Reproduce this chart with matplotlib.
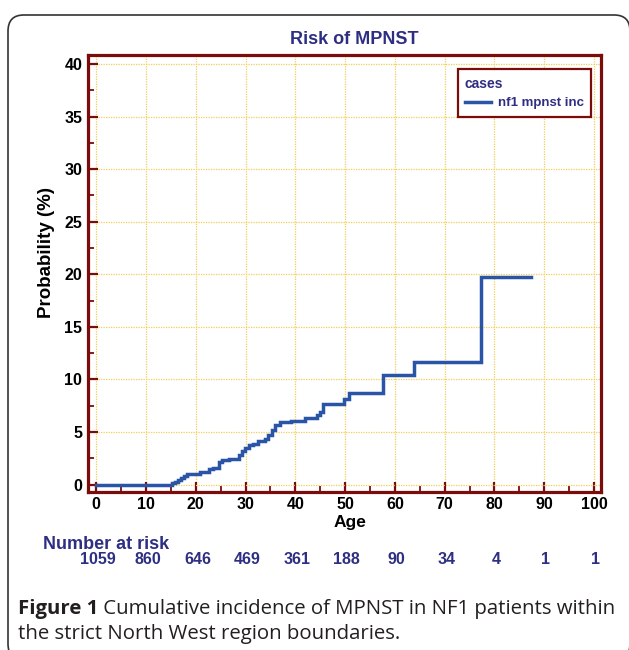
import matplotlib
matplotlib.use("Agg")
import matplotlib.pyplot as plt
from matplotlib.patches import FancyBboxPatch
from matplotlib.ticker import MultipleLocator

# ---- data ----
ages = [0, 15.2, 15.8, 16.4, 17.0, 17.6, 18.2, 20.9, 22.6, 23.4, 24.6, 25.2,
        26.6, 28.6, 29.3, 29.9, 30.6, 31.6, 32.6, 33.9, 34.6, 35.3, 35.9,
        36.9, 39.1, 42.0, 44.3, 44.9, 45.6, 49.8, 50.8, 57.6, 63.8, 77.3, 87.3]
probs = [0, 0.15, 0.3, 0.45, 0.6, 0.8, 1.0, 1.2, 1.45, 1.6, 2.15, 2.3,
         2.47, 2.85, 3.16, 3.48, 3.73, 3.89, 4.18, 4.33, 4.75, 5.22, 5.63,
         5.95, 6.03, 6.35, 6.67, 6.95, 7.68, 8.19, 8.73, 10.47, 11.67, 19.7, 19.7]
risk_ages = [0, 10, 20, 30, 40, 50, 60, 70, 80, 90, 100]
n_at_risk = ["1059", "860", "646", "469", "361", "188", "90", "34", "4", "1", "1"]
x_ticks = list(range(0, 101, 10))
y_ticks = list(range(0, 41, 5))
title = "Risk of MPNST"
series_name = "nf1 mpnst inc"
legend_title = "cases"
caption_bold = "Figure 1"
caption_rest_1 = "Cumulative incidence of MPNST in NF1 patients within"
caption_line_2 = "the strict North West region boundaries."

# ---- style ----
W, H = 629, 650
NAVY = "#2e2e82"
BLUE = "#2a54a6"
FRAME = "#7a0c0c"
GRID = "#f2cf55"
FONT = "Liberation Sans"
CAP = 14.7

fig = plt.figure(figsize=(W / 100, H / 100), dpi=100)

# outer rounded box
box = FancyBboxPatch((8 / W, 1 - 660 / H), (630 - 8) / W, (660 - 15) / H,
                     boxstyle="round,pad=0,rounding_size=0.025",
                     transform=fig.transFigure, facecolor="none",
                     edgecolor="#333333", linewidth=1.2, clip_on=False)
fig.patches.append(box)

left, right, top, bottom = 87.7, 601, 55, 491.5
ax = fig.add_axes([left / W, 1 - bottom / H, (right - left) / W, (bottom - top) / H])

ax.step(ages, probs, where="post", color=BLUE, linewidth=2.5, label=series_name,
        zorder=3, solid_joinstyle="miter")

ax.set_xlim(-1.7, 101.4)
ax.set_ylim(-0.65, 40.85)
ax.set_xticks(x_ticks)
ax.set_yticks(y_ticks)
ax.xaxis.set_minor_locator(MultipleLocator(5))
ax.yaxis.set_minor_locator(MultipleLocator(2.5))
ax.tick_params(which="major", direction="in", length=7, width=1.6, color=FRAME,
               labelsize=11.5, pad=4)
ax.tick_params(which="minor", direction="in", length=4, width=1.3, color=FRAME)
for lab in ax.get_xticklabels() + ax.get_yticklabels():
    lab.set_fontweight("bold")
    lab.set_fontfamily(FONT)
for s in ax.spines.values():
    s.set_color(FRAME)
    s.set_linewidth(2.3)
ax.grid(True, which="major", color=GRID, linestyle=(0, (1, 1)), linewidth=0.9)
ax.set_axisbelow(True)

ax.set_ylabel("Probability (%)", fontsize=13.5, fontweight="bold", family=FONT,
              va="center")
ax.yaxis.set_label_coords((46.7 - left) / (right - left), 1 - (252 - top) / (bottom - top))
ax.set_xlabel("Age", fontsize=12.5, fontweight="bold", family=FONT, va="center")
ax.xaxis.set_label_coords((350 - left) / (right - left), -(522 - bottom) / (bottom - top))

fig.text(354 / W, 1 - 40 / H, title, ha="center", va="center", fontsize=13,
         fontweight="bold", color=NAVY, family=FONT)

leg = ax.legend(loc="upper right",
                bbox_to_anchor=((591 - left) / (right - left),
                                1 - (69.3 - top) / (bottom - top)),
                borderaxespad=0, title=legend_title, alignment="left",
                fancybox=False, framealpha=1, edgecolor=FRAME,
                prop={"weight": "bold", "family": FONT, "size": 9.5},
                title_fontproperties={"weight": "bold", "family": FONT, "size": 10},
                labelcolor=NAVY, handlelength=2.0, handletextpad=0.5,
                borderpad=0.55)
leg.get_frame().set_linewidth(1.6)
leg.get_title().set_color(NAVY)

# number at risk
fig.text(42.7 / W, 1 - 544.5 / H, "Number at risk", ha="left", va="center", fontsize=13,
         fontweight="bold", color=NAVY, family=FONT)
for a, n in zip(risk_ages, n_at_risk):
    ax.annotate(n, xy=(a, 1 - 560 / H), xycoords=("data", "figure fraction"),
                xytext=(1.2, 0), textcoords="offset points",
                ha="center", va="center", fontsize=11.5, fontweight="bold",
                color=NAVY, family=FONT, annotation_clip=False)

# caption
t1 = fig.text(18 / W, 1 - 614 / H, caption_bold, ha="left", va="baseline",
              fontsize=CAP, fontweight="bold", family="Open Sans", color="#231f20")
fig.text(18 / W, 1 - 639 / H, caption_line_2, ha="left", va="baseline",
         fontsize=CAP, family="Open Sans", color="#231f20")
ax.annotate(" " + caption_rest_1, xy=(1, 0), xycoords=t1, ha="left", va="bottom",
            fontsize=CAP, family="Open Sans", color="#231f20", annotation_clip=False)

fig.savefig("out.png", dpi=100)
